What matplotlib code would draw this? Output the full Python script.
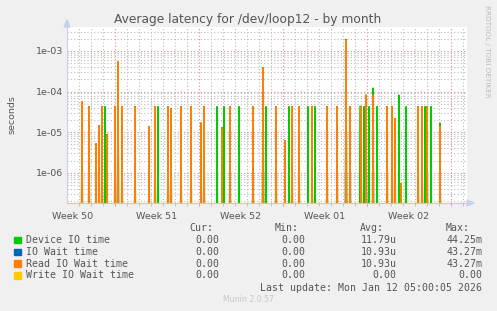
import numpy as np
import matplotlib
matplotlib.use("Agg")
import matplotlib.pyplot as plt
from matplotlib.ticker import LogLocator, NullFormatter, FixedLocator

# time axis: days relative to Monday 2025-12-15 00:00, one sample every 2 hours
t_start, t_end = -4.0, 29.33
week_starts = [0, 7, 14, 21, 28]
week_labels = ["Week 50", "Week 51", "Week 52", "Week 01", "Week 02"]
week_label_pos = [-3.5, 3.5, 10.5, 17.5, 24.5]

# Read IO Wait time spikes (day, seconds); IO Wait time is identical
read_days = [-2.75, -2.17, -1.58, -1.33, -1.08, -0.67, 0.0, 0.25, 0.58, 1.67,
             2.83, 3.33, 4.42, 4.67, 5.5, 6.33, 7.17, 7.42, 8.92, 9.56,
             11.5, 12.35, 13.43, 14.17, 14.75, 15.31, 16.42, 17.67, 18.5, 19.25,
             19.58, 20.47, 20.95, 21.5, 22.67, 23.08, 23.33, 23.83, 25.25, 25.58,
             26.0, 27.08]
read_vals = [5.8e-5, 4.3e-5, 5.4e-6, 1.45e-5, 4.3e-5, 8.7e-6, 4.3e-5, 5.6e-4, 4.3e-5, 4.3e-5,
             1.4e-5, 4.3e-5, 4.3e-5, 3.9e-5, 4.3e-5, 4.3e-5, 1.7e-5, 4.3e-5, 1.3e-5, 4.3e-5,
             4.3e-5, 4.0e-4, 4.3e-5, 6.4e-6, 4.3e-5, 4.3e-5, 4.3e-5, 4.3e-5, 4.3e-5, 1.87e-3,
             4.3e-5, 4.3e-5, 8.3e-5, 8.3e-5, 4.3e-5, 4.3e-5, 2.2e-5, 5.6e-7, 4.3e-5, 4.3e-5,
             4.3e-5, 1.45e-5]

# Device IO time: the same spikes plus some of its own
dev_extra_days = [-0.83, 3.6, 8.5, 9.08, 10.33, 12.58, 14.47, 16.08, 16.64, 20.39,
                  20.72, 21.17, 21.5, 21.83, 23.67, 24.25, 25.83, 26.33, 27.08, 19.25]
dev_extra_vals = [4.3e-5, 4.3e-5, 4.3e-5, 4.3e-5, 4.3e-5, 4.3e-5, 4.3e-5, 4.3e-5, 4.3e-5, 4.3e-5,
                  4.3e-5, 4.3e-5, 1.24e-4, 4.3e-5, 8.3e-5, 4.3e-5, 4.3e-5, 4.3e-5, 1.7e-5, 1.95e-3]

legend_names = ["Device IO time", "IO Wait time", "Read IO Wait time", "Write IO Wait time"]
legend_colors = ["#00CC00", "#0066B3", "#FF8000", "#FFCC00"]
cur = ["0.00", "0.00", "0.00", "0.00"]
mins = ["0.00", "0.00", "0.00", "0.00"]
avgs = ["11.79u", "10.93u", "10.93u", "0.00"]
maxs = ["44.25m", "43.27m", "43.27m", "0.00"]

t = t_start + np.arange(400) / 12.0


def series(days, vals, base=None):
    s = np.zeros_like(t) if base is None else base.copy()
    for d, v in zip(days, vals):
        i = int(round((d - t_start) * 12))
        s[i] = max(s[i], v)
    return s


read = series(read_days, read_vals)
iowait = read.copy()
device = series(dev_extra_days, dev_extra_vals, base=read)
write = np.zeros_like(t)

W, H = 497, 311
fig = plt.figure(figsize=(W / 100, H / 100), dpi=100, facecolor="#F0F0F0")
ax = fig.add_axes([67 / W, (H - 203) / H, 400 / W, 176 / H])
ax.set_facecolor("white")

floor = 1e-12
for s, c in zip([device, iowait, read, write], legend_colors):
    y = np.where(s > 0, s, floor)
    ax.fill_between(t, 1e-7, y, color=c, alpha=0.25, lw=0)
    ax.plot(t, y, color=c, lw=1.1, solid_joinstyle="miter")

ax.set_yscale("log")
ax.set_ylim(1.8e-7, 3.9e-3)
ax.set_xlim(t_start, t_end)

# grid
ax.yaxis.set_minor_locator(LogLocator(base=10, subs=np.arange(2, 10), numticks=20))
ax.yaxis.set_minor_formatter(NullFormatter())
ax.set_yticks([1e-6, 1e-5, 1e-4, 1e-3])
ax.set_yticklabels(["1e-06", "1e-05", "1e-04", "1e-03"])
ax.xaxis.set_major_locator(FixedLocator(week_starts))
ax.xaxis.set_minor_locator(FixedLocator(np.arange(-3, 30)))
ax.set_xticklabels([])
ax.grid(True, which="minor", color="#BBBBBB", ls=(0, (1, 2)), lw=0.8)
ax.grid(True, which="major", color="#E08888", ls=(0, (1, 2)), lw=0.8)
ax.set_axisbelow(True)
ax.tick_params(which="both", length=2, width=0.6, color="#E09090", labelsize=6.8,
               labelcolor="#555555", pad=3)
ax.tick_params(axis="x", which="minor", color="#BBBBBB")
ax.tick_params(axis="y", which="both", length=0)
for pos in ["top", "right"]:
    ax.spines[pos].set_visible(False)
ax.spines["left"].set_color("#C8D0F0")
ax.spines["bottom"].set_color("#D8C89A")
ax.spines["left"].set_linewidth(0.8)
ax.spines["bottom"].set_linewidth(0.8)

for x, lab in zip(week_label_pos, week_labels):
    ax.text(x, -0.05, lab, transform=ax.get_xaxis_transform(), ha="center", va="top",
            fontsize=6.8, color="#555555")

# axis arrows
fig.patches.append(plt.Polygon([[64 / W, 1 - 27 / H], [70 / W, 1 - 27 / H], [67 / W, 1 - 20 / H]],
                               closed=True, transform=fig.transFigure, color="#C8D0F0"))
fig.patches.append(plt.Polygon([[467 / W, 1 - 200 / H], [467 / W, 1 - 206 / H], [474 / W, 1 - 203 / H]],
                               closed=True, transform=fig.transFigure, color="#C8D0F0"))

fig.text(248 / W, 1 - 19 / H, "Average latency for /dev/loop12 - by month", ha="center", va="center",
         fontsize=8.8, color="#555555")
fig.text(12 / W, 1 - 115 / H, "seconds", rotation=90, ha="center", va="center",
         fontsize=6.8, color="#555555")
fig.text(487 / W, 1 - 5 / H, "RRDTOOL / TOBI OETIKER", rotation=270, ha="center", va="top",
         fontsize=5.2, color="#BBBBBB")

mono = dict(family="DejaVu Sans Mono", fontsize=7.1, color="#555555", va="center")
hy = 1 - 228 / H
for x, lab in zip([213, 299, 384, 470], ["Cur:", "Min:", "Avg:", "Max:"]):
    fig.text(x / W, hy, lab, ha="right", **mono)
for k in range(4):
    y = 1 - (240 + 11.8 * k) / H
    fig.patches.append(plt.Rectangle((14 / W, y - 3.2 / H), 6.5 / W, 6.5 / H,
                                     transform=fig.transFigure, color=legend_colors[k]))
    fig.text(26 / W, y, legend_names[k], ha="left", **mono)
    for x, v in zip([219, 305.5, 396.5, 482.5], [cur[k], mins[k], avgs[k], maxs[k]]):
        fig.text(x / W, y, v, ha="right", **mono)
fig.text(482.5 / W, 1 - 287.7 / H, "Last update: Mon Jan 12 05:00:05 2026", ha="right", **mono)
fig.text(248 / W, 1 - 300 / H, "Munin 2.0.57", ha="center", va="center", fontsize=5.6, color="#C8C8C8")

fig.savefig("out.png", dpi=100, facecolor=fig.get_facecolor())
